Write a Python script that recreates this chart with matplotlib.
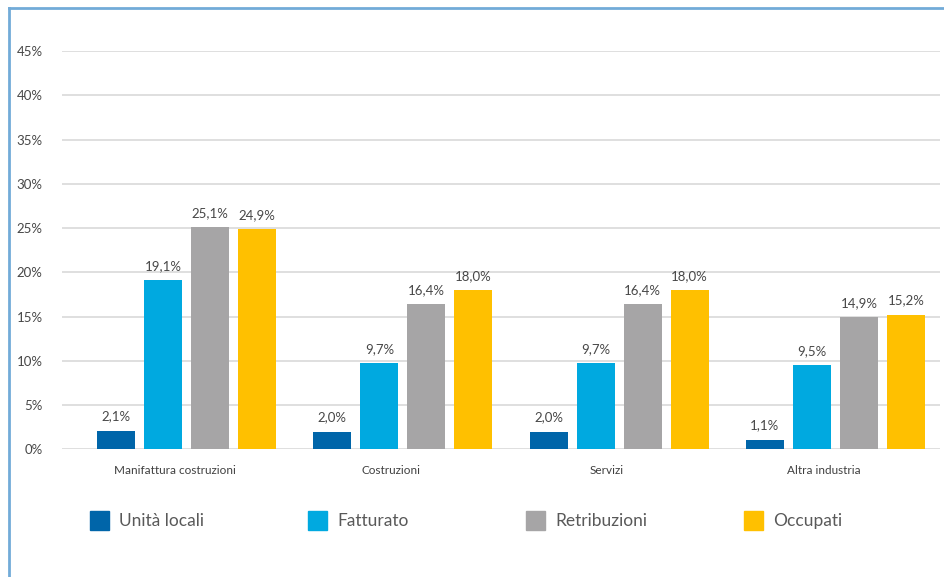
import matplotlib.pyplot as plt
import matplotlib.transforms as mtransforms
from matplotlib.patches import Rectangle
from matplotlib.lines import Line2D
import numpy as np

plt.rcParams['font.family'] = ['Lato', 'DejaVu Sans']

# Data
categories = ['Manifattura costruzioni', 'Costruzioni', 'Servizi', 'Altra industria']
series = ['Unità locali', 'Fatturato', 'Retribuzioni', 'Occupati']
unita_locali = [2.1, 2.0, 2.0, 1.1]
fatturato = [19.1, 9.7, 9.7, 9.5]
retribuzioni = [25.1, 16.4, 16.4, 14.9]
occupati = [24.9, 18.0, 18.0, 15.2]
y_ticks = [0, 5, 10, 15, 20, 25, 30, 35, 40, 45]

colors = ['#0065a9', '#00a9e0', '#a6a5a6', '#ffc000']
values = [unita_locali, fatturato, retribuzioni, occupati]

fig = plt.figure(figsize=(9.45, 5.77), dpi=100)
ax = fig.add_axes([62 / 945, 1 - 449.3 / 577, 878 / 945, 398.1 / 577])

x = np.arange(len(categories))
step = 0.2173
width = 0.1757
for j, (vals, col) in enumerate(zip(values, colors)):
    pos = x + (j - 1.5) * step
    bars = ax.bar(pos, vals, width=width, color=col, zorder=3)
    for b, v in zip(bars, vals):
        ax.annotate(f'{v:.1f}%'.replace('.', ','),
                    (b.get_x() + b.get_width() / 2, v),
                    xytext=(0, 6), textcoords='offset points',
                    ha='center', va='bottom', fontsize=9.5, color='#474747')

ax.set_xlim(-0.5756, 3.4834)
ax.set_ylim(0, 45)
ax.set_yticks(y_ticks)
ax.set_yticklabels([f'{t}%' for t in y_ticks])
ax.set_xticks(x)
ax.set_xticklabels(categories)
ax.grid(axis='y', color='#d9d9d9', linewidth=1.2, zorder=0)
for s in ax.spines.values():
    s.set_visible(False)
ax.tick_params(axis='y', length=0, pad=14, labelsize=9.5, labelcolor='#474747')
ax.tick_params(axis='x', length=0, pad=11, labelsize=8.5, labelcolor='#404040')

# category labels sit a little left of the bar groups in the original
shift = mtransforms.ScaledTranslation(-12 / 100, 0, fig.dpi_scale_trans)
for lbl in ax.get_xticklabels():
    lbl.set_transform(lbl.get_transform() + shift)

# legend, placed by hand at even spacing
for i, (name, col) in enumerate(zip(series, colors)):
    x0 = (90 + i * 218) / 945
    fig.patches.append(Rectangle((x0, 1 - 530 / 577), 19 / 945, 19 / 577,
                                 transform=fig.transFigure, color=col))
    fig.text(x0 + 29 / 945, 1 - 521 / 577, name, fontsize=12.5,
             color='#595959', va='center', ha='left')

# light blue frame on left and top
fig.add_artist(Line2D([9 / 945, 9 / 945], [0, 1 - 8 / 577], color='#72abd8',
                      linewidth=2, transform=fig.transFigure))
fig.add_artist(Line2D([9 / 945, 1], [1 - 8 / 577, 1 - 8 / 577], color='#72abd8',
                      linewidth=2, transform=fig.transFigure))

plt.savefig('out.png', dpi=100)
